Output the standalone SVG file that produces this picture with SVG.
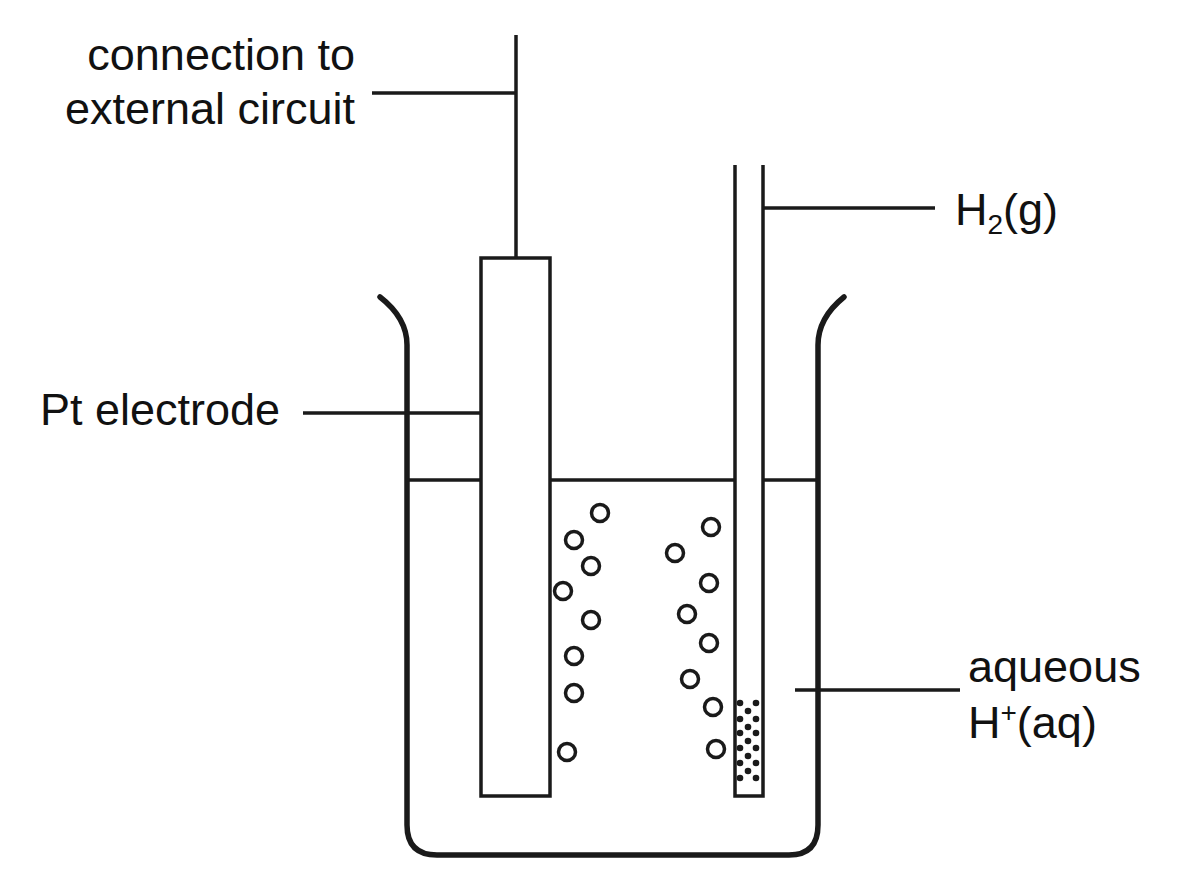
<svg xmlns="http://www.w3.org/2000/svg" width="1200" height="896" viewBox="0 0 1200 896">
<style>
.l{stroke:#1a1a1a;stroke-width:3.5;fill:none}
.w{stroke:#1a1a1a;stroke-width:5.5;fill:none;stroke-linecap:round}
.b{stroke:#1a1a1a;stroke-width:3.5;fill:#fff}
text{font-family:"Liberation Sans",Arial,sans-serif;font-size:45px;fill:#111}
</style>
<rect width="1200" height="896" fill="#fff"/>
<g id="beaker"><path class="w" d="M380 297 Q407 318 407 345 V825 Q407 855 437 855 H789 Q818 855 818 825 V345 Q818 318 844 297"/></g>
<g id="liquid"><path class="l" d="M407 480H481M550 480H735M763 480H818"/></g>
<g id="electrode"><rect class="l" x="481" y="258" width="69" height="538"/><line class="l" x1="516" y1="35" x2="516" y2="258"/></g>
<g id="tube"><path class="l" d="M735 165V796H763V165"/>
<g fill="#1a1a1a"><circle cx="740" cy="703" r="3.3"/><circle cx="756" cy="703" r="3.3"/><circle cx="740" cy="719" r="3.3"/><circle cx="756" cy="719" r="3.3"/><circle cx="740" cy="733" r="3.3"/><circle cx="756" cy="733" r="3.3"/><circle cx="740" cy="748" r="3.3"/><circle cx="756" cy="748" r="3.3"/><circle cx="740" cy="763" r="3.3"/><circle cx="756" cy="763" r="3.3"/><circle cx="740" cy="778" r="3.3"/><circle cx="756" cy="778" r="3.3"/><circle cx="748" cy="711" r="3.3"/><circle cx="748" cy="727" r="3.3"/><circle cx="748" cy="741" r="3.3"/><circle cx="748" cy="756" r="3.3"/><circle cx="748" cy="771" r="3.3"/></g></g>
<g id="bubbles">
<circle class="b" cx="600" cy="513" r="8.5"/><circle class="b" cx="574" cy="540" r="8.5"/><circle class="b" cx="591" cy="566" r="8.5"/><circle class="b" cx="563" cy="591" r="8.5"/><circle class="b" cx="591" cy="620" r="8.5"/><circle class="b" cx="574" cy="656" r="8.5"/><circle class="b" cx="574" cy="693" r="8.5"/><circle class="b" cx="567" cy="752" r="8.5"/>
<circle class="b" cx="711" cy="527" r="8.5"/><circle class="b" cx="675" cy="553" r="8.5"/><circle class="b" cx="709" cy="583" r="8.5"/><circle class="b" cx="687" cy="614" r="8.5"/><circle class="b" cx="709" cy="643" r="8.5"/><circle class="b" cx="690" cy="679" r="8.5"/><circle class="b" cx="713" cy="707" r="8.5"/><circle class="b" cx="716" cy="749" r="8.5"/>
</g>
<g id="connectors"><path class="l" d="M372 93H516M303 413H481M763 208H935M795 690H960"/></g>
<g id="labels">
<text x="355" y="70" text-anchor="end">connection to</text>
<text x="355" y="124" text-anchor="end">external circuit</text>
<text x="40" y="425">Pt electrode</text>
<text x="955" y="225">H<tspan font-size="28" dy="9">2</tspan><tspan dy="-9">(g)</tspan></text>
<text x="968" y="682">aqueous</text>
<text x="968" y="738">H<tspan font-size="28" dy="-16">+</tspan><tspan dy="16">(aq)</tspan></text>
</g>
</svg>
